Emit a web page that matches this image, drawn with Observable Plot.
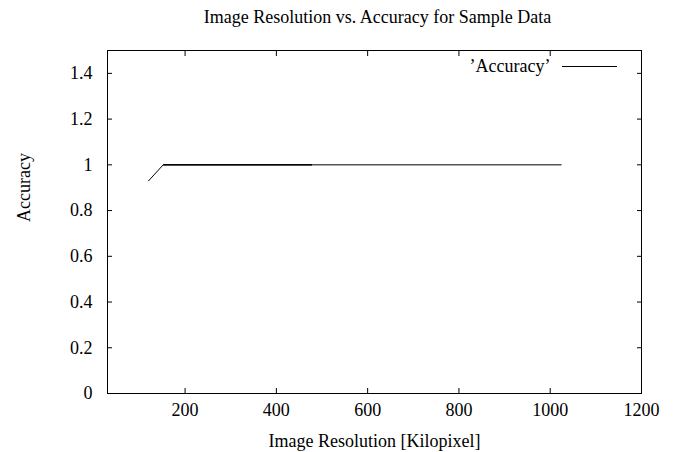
<!DOCTYPE html>
<html>
<head>
<meta charset="utf-8">
<script src="https://cdn.jsdelivr.net/npm/d3@7"></script>
<script src="https://cdn.jsdelivr.net/npm/@observablehq/plot@0.6"></script>
<style>
  html, body { margin: 0; padding: 0; background: #fff; }
  svg { display: block; }
</style>
</head>
<body>
<div id="chart"></div>
<script>
const resolutions = [120, 152, 478, 152, 1024];
const accuracies = [0.93, 1.0, 1.0, 1.0, 1.0];
const xTicks = [200, 400, 600, 800, 1000, 1200];
const yTicks = [0, 0.2, 0.4, 0.6, 0.8, 1.0, 1.2, 1.4];
const titleText = "Image Resolution vs. Accuracy for Sample Data";
const xLabel = "Image Resolution [Kilopixel]";
const yLabel = "Accuracy";
const legendLabel = "\u2019Accuracy\u2019";

const data = resolutions.map((r, i) => ({x: r, y: accuracies[i]}));
const fmtY = d => String(+d.toFixed(1));
const fmtX = d => String(d);
const blank = () => "";

const chart = Plot.plot({
  width: 683,
  height: 452,
  marginLeft: 107,
  marginRight: 42,
  marginTop: 50,
  marginBottom: 59,
  style: {fontFamily: "'Liberation Serif', 'Times New Roman', serif", fontSize: "18px", color: "#000", background: "#fff"},
  x: {domain: [30, 1200]},
  y: {domain: [0, 1.5]},
  marks: [
    Plot.frame({stroke: "#000"}),
    Plot.axisX(xTicks, {anchor: "bottom", tickSize: 0, tickPadding: 10, tickFormat: fmtX, label: null, fontSize: 18}),
    Plot.axisX(xTicks, {anchor: "bottom", tickSize: -5, tickFormat: blank, label: null}),
    Plot.axisX(xTicks, {anchor: "top", tickSize: -5, tickFormat: blank, label: null}),
    Plot.axisY(yTicks, {anchor: "left", tickSize: 0, tickPadding: 15, tickFormat: fmtY, label: null, fontSize: 18}),
    Plot.axisY(yTicks, {anchor: "left", tickSize: -5, tickFormat: blank, label: null}),
    Plot.axisY(yTicks, {anchor: "right", tickSize: -5, tickFormat: blank, label: null}),
    Plot.line(data, {x: "x", y: "y", stroke: "#000", strokeWidth: 1}),
    Plot.text([titleText], {frameAnchor: "top", dy: -33, dx: 3, fontSize: 18, lineAnchor: "middle"}),
    Plot.text([xLabel], {frameAnchor: "bottom", dy: 48, fontSize: 18, lineAnchor: "middle"}),
    Plot.text([yLabel], {frameAnchor: "left", dx: -83, rotate: -90, fontSize: 18, lineAnchor: "middle"}),
    Plot.text([legendLabel], {frameAnchor: "top-right", dx: -91, dy: 16, textAnchor: "end", fontSize: 18, lineAnchor: "middle"}),
    Plot.ruleY([1.5], {dy: 16, insetLeft: 455, insetRight: 24, stroke: "#000", strokeWidth: 1})
  ]
});
document.getElementById("chart").appendChild(chart);
</script>
</body>
</html>
